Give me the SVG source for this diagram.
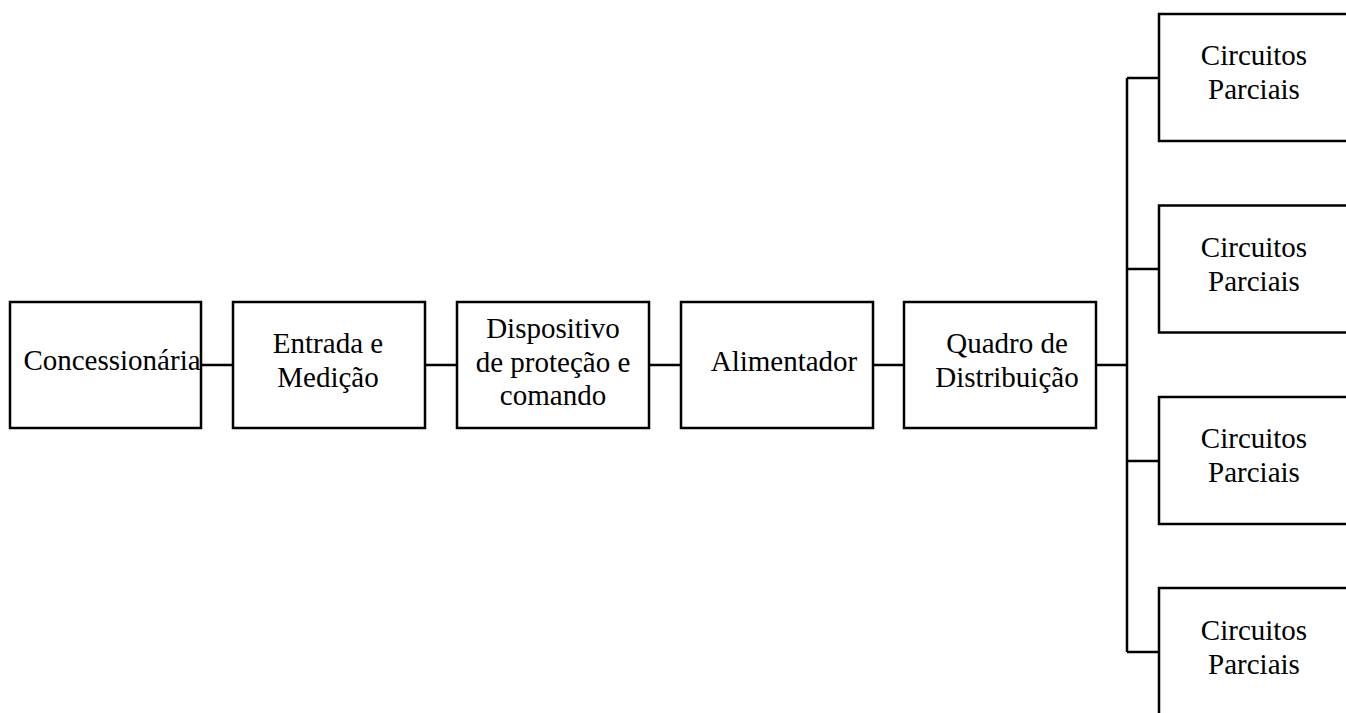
<svg xmlns="http://www.w3.org/2000/svg" width="1346" height="713" viewBox="0 0 1346 713">
<style>
.box{fill:#fff;stroke:#000;stroke-width:2.5}
.ln{fill:none;stroke:#000;stroke-width:2.5}
text{font-family:"Liberation Serif","Times New Roman",serif;font-size:29px;fill:#000;text-anchor:middle}
</style>
<rect width="1346" height="713" fill="#fff"/>
<g id="connectors">
<path class="ln" d="M201 365H233M425 365H457M649 365H681M873 365H904M1096 365H1127M1127 78V652M1127 78H1159M1127 269H1159M1127 461H1159M1127 652H1159"/>
</g>
<g id="n1"><rect class="box" x="10" y="302" width="191" height="126"/><text x="112" y="370">Concessionária</text></g>
<g id="n2"><rect class="box" x="233" y="302" width="192" height="126"/><text x="328" y="353">Entrada e</text><text x="328" y="387">Medição</text></g>
<g id="n3"><rect class="box" x="457" y="302" width="192" height="126"/><text x="553" y="338">Dispositivo</text><text x="553" y="372">de proteção e</text><text x="553" y="405">comando</text></g>
<g id="n4"><rect class="box" x="681" y="302" width="192" height="126"/><text x="784" y="371">Alimentador</text></g>
<g id="n5"><rect class="box" x="904" y="302" width="192" height="126"/><text x="1007" y="353">Quadro de</text><text x="1007" y="387">Distribuição</text></g>
<g id="c1"><rect class="box" x="1159" y="14" width="200" height="127"/><text x="1254" y="65">Circuitos</text><text x="1254" y="99">Parciais</text></g>
<g id="c2"><rect class="box" x="1159" y="205.5" width="200" height="127"/><text x="1254" y="257">Circuitos</text><text x="1254" y="291">Parciais</text></g>
<g id="c3"><rect class="box" x="1159" y="397" width="200" height="127"/><text x="1254" y="448">Circuitos</text><text x="1254" y="482">Parciais</text></g>
<g id="c4"><rect class="box" x="1159" y="588" width="200" height="140"/><text x="1254" y="640">Circuitos</text><text x="1254" y="674">Parciais</text></g>
</svg>
